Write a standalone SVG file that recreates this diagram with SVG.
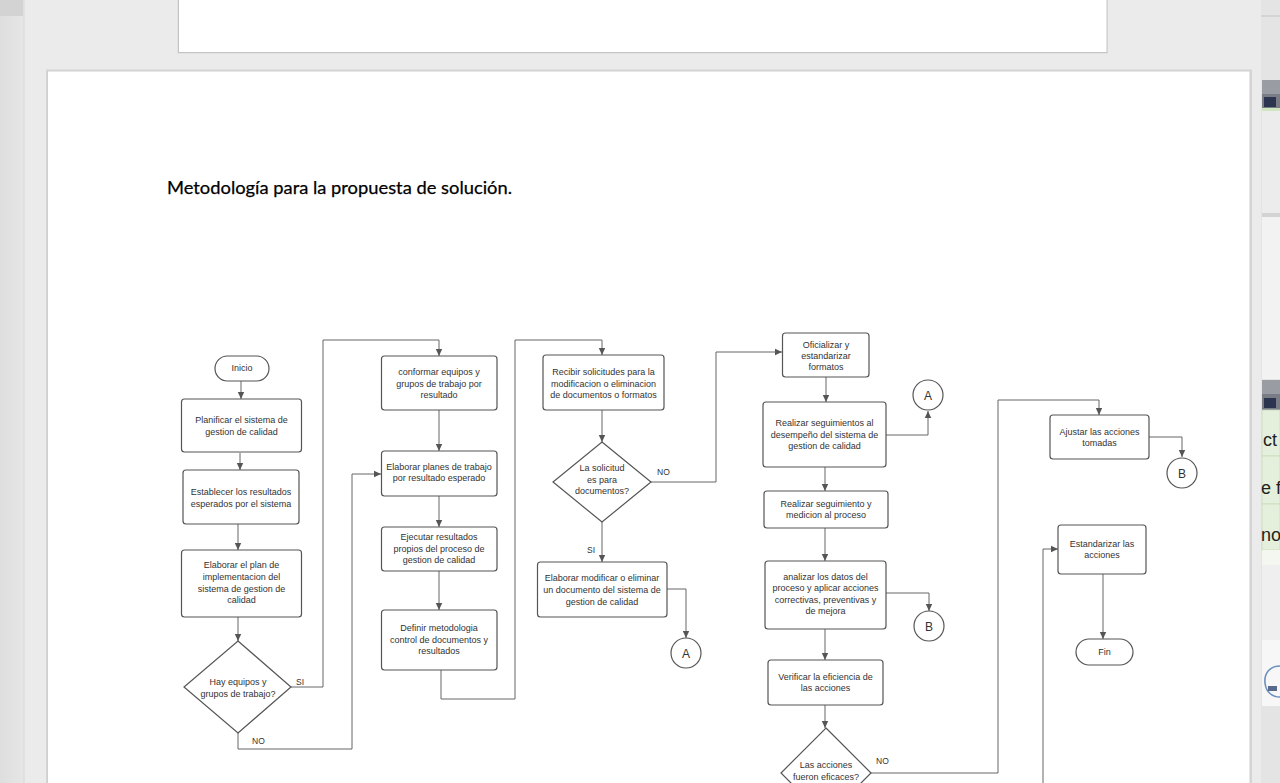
<svg xmlns="http://www.w3.org/2000/svg" width="1280" height="783" viewBox="0 0 1280 783">
<defs>
<marker id="arr" markerUnits="userSpaceOnUse" markerWidth="8" markerHeight="8" refX="7" refY="4" orient="auto">
<path d="M0,0.8 L7,4 L0,7.2 Z" fill="#555"/>
</marker>
<linearGradient id="lg" x1="0" x2="1" y1="0" y2="0">
<stop offset="0" stop-color="#dedede"/><stop offset="1" stop-color="#e6e6e6"/>
</linearGradient>
<style>
.box{fill:#fff;stroke:#555;stroke-width:1.2}
.t{font-family:"Liberation Sans",Arial,sans-serif;font-size:9px;fill:#333;text-anchor:middle}
.cl{font-family:"Liberation Sans",Arial,sans-serif;font-size:12px;fill:#333;text-anchor:middle}
.lbl{font-family:"Liberation Sans",Arial,sans-serif;font-size:8.5px;fill:#333}
.ca{fill:none;stroke:#666;stroke-width:1;stroke-linejoin:round;marker-end:url(#arr)}
.big{font-family:"Liberation Sans",Arial,sans-serif;font-size:18px;fill:#222}
</style>
</defs>
<!-- background -->
<rect x="0" y="0" width="1280" height="783" fill="#ebebeb"/>
<rect x="0" y="0" width="24" height="783" fill="url(#lg)"/>
<rect x="0" y="0" width="23" height="16" fill="#d3d3d3"/>
<line x1="24" y1="0" x2="24" y2="783" stroke="#d8d8d8" stroke-width="1"/>
<!-- pages -->
<rect x="177" y="-2" width="931" height="56" fill="#dcdcdc" opacity="0.6"/>
<rect x="178.5" y="-1" width="928.5" height="53.5" fill="#fff" stroke="#c4c4c4" stroke-width="1"/>
<rect x="46" y="69.5" width="1206" height="716" fill="#d6d6d6"/>
<rect x="47.5" y="71" width="1202.5" height="714" fill="#fff" stroke="#cfcfcf" stroke-width="1"/>
<!-- right side thumbnails -->
<g id="thumbs">
<rect x="1261" y="0" width="19" height="783" fill="#e4e4e4"/>
<line x1="1261" y1="16" x2="1280" y2="16" stroke="#cfcfcf" stroke-width="1.5"/>
<rect x="1262" y="80" width="18" height="28" fill="#7a7d86"/>
<rect x="1262" y="80" width="18" height="14" fill="#9a9ca3"/>
<rect x="1264" y="97" width="12" height="10" fill="#2c3550"/>
<rect x="1262" y="108" width="18" height="3" fill="#cfe6c0"/>
<rect x="1262" y="111" width="18" height="102" fill="#ececec"/>
<rect x="1262" y="213" width="18" height="4" fill="#d3d3d3"/>
<rect x="1262" y="217" width="18" height="162" fill="#f2f2f2"/>
<rect x="1262" y="380" width="18" height="30" fill="#7a7d86"/>
<rect x="1262" y="380" width="18" height="14" fill="#9a9ca3"/>
<rect x="1264" y="398" width="12" height="10" fill="#2c3550"/>
<rect x="1262" y="410" width="18" height="46" fill="#e5f0dc" stroke="#c9d9bc" stroke-width="0.8"/>
<rect x="1262" y="456" width="18" height="48" fill="#e5f0dc" stroke="#c9d9bc" stroke-width="0.8"/>
<rect x="1262" y="504" width="18" height="46" fill="#e5f0dc" stroke="#c9d9bc" stroke-width="0.8"/>
<text x="1263" y="446" class="big">ct</text>
<text x="1261" y="494" class="big">e f</text>
<text x="1261" y="541" class="big">no</text>
<rect x="1262" y="550" width="18" height="15" fill="#f3f7ef"/>
<rect x="1262" y="565" width="18" height="75" fill="#efefef"/>
<rect x="1262" y="640" width="18" height="66" fill="#f7f7f7"/>
<path d="M1280,666 C1270,666 1264,673 1265,683 C1266,693 1273,697 1280,697" fill="none" stroke="#6d8fc0" stroke-width="1.6"/>
<rect x="1268" y="686" width="9" height="5" fill="#5a6a8a"/>
</g>
<!-- title -->
<text x="167" y="194" font-family="Lato,'Liberation Sans',sans-serif" font-size="18" fill="#000" stroke="#000" stroke-width="0.25" textLength="345" lengthAdjust="spacingAndGlyphs">Metodología para la propuesta de solución.</text>
<!-- connectors -->
<g id="connectors">
<path class="ca" d="M241,381 V399"/>
<path class="ca" d="M240,453 V470"/>
<path class="ca" d="M238,524 V550"/>
<path class="ca" d="M238,617 V641"/>
<path class="ca" d="M291,687 H323 V340 H439 V356"/>
<path class="ca" d="M238,733 V749 H352 V474 H381"/>
<path class="ca" d="M439,410 V451"/>
<path class="ca" d="M439,496 V527"/>
<path class="ca" d="M439,571 V610"/>
<path class="ca" d="M441,670 V699 H515 V340 H602 V355"/>
<path class="ca" d="M602,410 V442"/>
<path class="ca" d="M651,482 H716 V352 H782"/>
<path class="ca" d="M602,522 V562"/>
<path class="ca" d="M667,589 H686 V638"/>
<path class="ca" d="M826,377 V402"/>
<path class="ca" d="M886,435 H928 V411"/>
<path class="ca" d="M825,467 V491"/>
<path class="ca" d="M825,528 V561"/>
<path class="ca" d="M886,593 H929 V611"/>
<path class="ca" d="M825,629 V660"/>
<path class="ca" d="M825,705 V728"/>
<path class="ca" d="M871,773 H998 V400 H1099 V415"/>
<path class="ca" d="M1149,437 H1182 V457"/>
<path class="ca" d="M1103,574 V639"/>
<path class="ca" d="M1043,790 V549 H1058"/>
<text class="lbl" x="296" y="685">SI</text>
<text class="lbl" x="252" y="744">NO</text>
<text class="lbl" x="657" y="475">NO</text>
<text class="lbl" x="587" y="553">SI</text>
<text class="lbl" x="876" y="764">NO</text>
</g>
<!-- nodes column 1 -->
<g id="inicio"><rect class="box" x="215" y="356" width="54" height="25" rx="12.5"/><text class="t" x="242" y="371">Inicio</text></g>
<g id="planificar"><rect class="box" x="181.5" y="399" width="120" height="53" rx="3"/><text class="t" x="241.5" y="423">Planificar el sistema de</text><text class="t" x="241.5" y="434.5">gestion de calidad</text></g>
<g id="establecer"><rect class="box" x="183" y="470" width="116" height="54" rx="3"/><text class="t" x="241" y="495">Establecer los resultados</text><text class="t" x="241" y="507">esperados por el sistema</text></g>
<g id="elaborar-plan"><rect class="box" x="181.5" y="550" width="120" height="67" rx="3"/><text class="t" x="241.5" y="568">Elaborar el plan de</text><text class="t" x="241.5" y="580">implementacion del</text><text class="t" x="241.5" y="591.5">sistema de gestion de</text><text class="t" x="241.5" y="603">calidad</text></g>
<g id="hay-equipos"><path class="box" d="M238,641 L291,687 L238,733 L184,687 Z"/><text class="t" x="238" y="685">Hay equipos y</text><text class="t" x="238" y="696.5">grupos de trabajo?</text></g>
<!-- column 2 -->
<g id="conformar"><rect class="box" x="381.5" y="356" width="115.5" height="54" rx="3"/><text class="t" x="439" y="375">conformar equipos y</text><text class="t" x="439" y="386.5">grupos de trabajo por</text><text class="t" x="439" y="397.5">resultado</text></g>
<g id="elaborar-planes"><rect class="box" x="381.5" y="451" width="115.5" height="45" rx="3"/><text class="t" x="439" y="470">Elaborar planes de trabajo</text><text class="t" x="439" y="481">por resultado esperado</text></g>
<g id="ejecutar"><rect class="box" x="381.5" y="527" width="115.5" height="44" rx="3"/><text class="t" x="439" y="540">Ejecutar resultados</text><text class="t" x="439" y="551.5">propios del proceso de</text><text class="t" x="439" y="562.5">gestion de calidad</text></g>
<g id="definir"><rect class="box" x="381.5" y="610" width="115.5" height="60" rx="3"/><text class="t" x="439" y="631">Definir metodologia</text><text class="t" x="439" y="642.5">control de documentos y</text><text class="t" x="439" y="654">resultados</text></g>
<!-- column 3 -->
<g id="recibir"><rect class="box" x="543" y="355" width="121" height="55" rx="3"/><text class="t" x="603.5" y="375">Recibir solicitudes para la</text><text class="t" x="603.5" y="386.5">modificacion o eliminacion</text><text class="t" x="603.5" y="398">de documentos o formatos</text></g>
<g id="la-solicitud"><path class="box" d="M602,442 L651,482 L602,522 L553,482 Z"/><text class="t" x="602" y="471">La solicitud</text><text class="t" x="602" y="482.5">es para</text><text class="t" x="602" y="494">documentos?</text></g>
<g id="elaborar-modificar"><rect class="box" x="537.5" y="562" width="129.5" height="55" rx="3"/><text class="t" x="602" y="581">Elaborar modificar o eliminar</text><text class="t" x="602" y="593">un documento del sistema de</text><text class="t" x="602" y="604.5">gestion de calidad</text></g>
<g id="conector-a1"><circle class="box" cx="686" cy="653" r="15"/><text class="cl" x="686" y="657.5">A</text></g>
<!-- column 4 -->
<g id="oficializar"><rect class="box" x="782.5" y="333" width="86.5" height="44" rx="3"/><text class="t" x="826" y="348">Oficializar y</text><text class="t" x="826" y="359">estandarizar</text><text class="t" x="826" y="370">formatos</text></g>
<g id="realizar-seguimientos"><rect class="box" x="763" y="402" width="123" height="65" rx="3"/><text class="t" x="824.5" y="425.5">Realizar seguimientos al</text><text class="t" x="824.5" y="437.5">desempeño del sistema de</text><text class="t" x="824.5" y="449">gestion de calidad</text></g>
<g id="conector-a2"><circle class="box" cx="928" cy="395" r="15"/><text class="cl" x="928" y="399.5">A</text></g>
<g id="realizar-seguimiento"><rect class="box" x="764" y="491" width="124" height="37" rx="3"/><text class="t" x="826" y="507">Realizar seguimiento y</text><text class="t" x="826" y="517.5">medicion al proceso</text></g>
<g id="analizar"><rect class="box" x="765" y="561" width="121" height="68" rx="3"/><text class="t" x="825.5" y="580">analizar los datos del</text><text class="t" x="825.5" y="591">proceso y aplicar acciones</text><text class="t" x="825.5" y="602.5">correctivas, preventivas y</text><text class="t" x="825.5" y="613.5">de mejora</text></g>
<g id="conector-b1"><circle class="box" cx="929" cy="626" r="15"/><text class="cl" x="929" y="630.5">B</text></g>
<g id="verificar"><rect class="box" x="768" y="660" width="115" height="45" rx="3"/><text class="t" x="825.5" y="680">Verificar la eficiencia de</text><text class="t" x="825.5" y="691">las acciones</text></g>
<g id="eficaces"><path class="box" d="M826,728 L871,773 L826,818 L781,773 Z"/><text class="t" x="826" y="767.5">Las acciones</text><text class="t" x="826" y="779.5">fueron eficaces?</text></g>
<!-- column 5 -->
<g id="ajustar"><rect class="box" x="1050" y="415" width="99" height="44" rx="3"/><text class="t" x="1099.5" y="435">Ajustar las acciones</text><text class="t" x="1099.5" y="446">tomadas</text></g>
<g id="conector-b2"><circle class="box" cx="1182" cy="473" r="15"/><text class="cl" x="1182" y="477.5">B</text></g>
<g id="estandarizar"><rect class="box" x="1058" y="525" width="88" height="49" rx="3"/><text class="t" x="1102" y="547">Estandarizar las</text><text class="t" x="1102" y="558">acciones</text></g>
<g id="fin"><rect class="box" x="1076" y="639" width="57" height="26" rx="13"/><text class="t" x="1104.5" y="655">Fin</text></g>
</svg>
